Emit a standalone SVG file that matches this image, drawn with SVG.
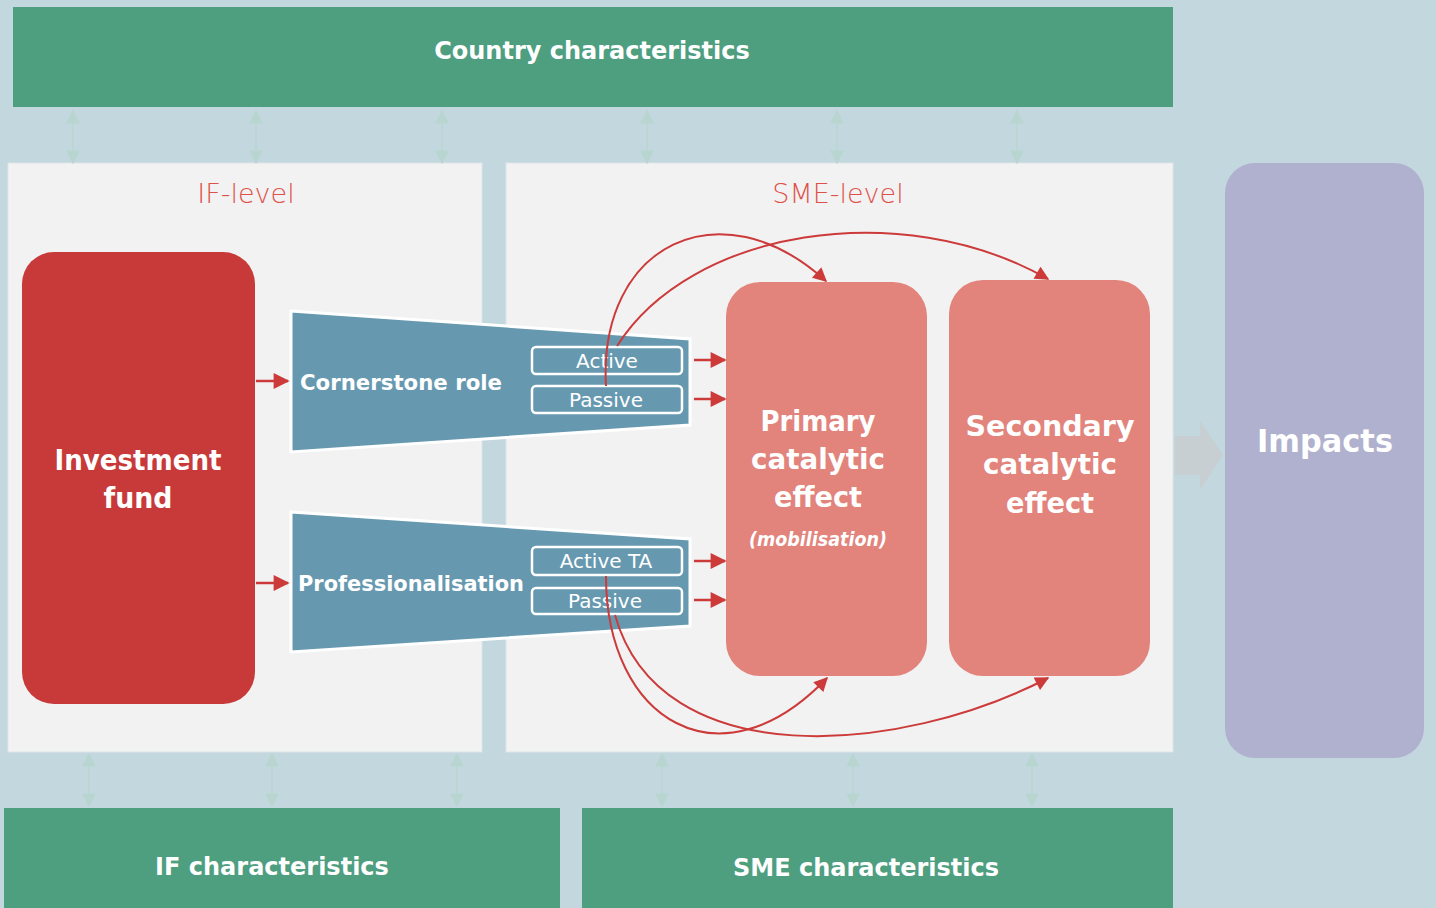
<svg xmlns="http://www.w3.org/2000/svg" width="1436" height="908" viewBox="0 0 1436 908">
  <defs>
    <style>
      .bar { fill: #4e9e80; }
      .panel { fill: #f2f2f2; stroke: #dde6ea; stroke-width: 1; }
      .h-bar { font-family: "DejaVu Sans", "Liberation Sans", sans-serif; font-weight: bold; font-size: 24px; fill: #ffffff; text-anchor: middle; }
      .lvl { font-family: "DejaVu Sans", "Liberation Sans", sans-serif; font-weight: 200; font-size: 27px; fill: #e0504a; text-anchor: middle; }
      .big { font-family: "DejaVu Sans", "Liberation Sans", sans-serif; font-weight: bold; font-size: 28px; fill: #ffffff; text-anchor: middle; }
      .mid { font-family: "DejaVu Sans", "Liberation Sans", sans-serif; font-weight: bold; font-size: 22px; fill: #ffffff; }
      .opt { font-family: "DejaVu Sans", "Liberation Sans", sans-serif; font-size: 20px; fill: #ffffff; text-anchor: middle; }
      .optbox { fill: #6699b0; stroke: #ffffff; stroke-width: 2.5; }
      .trap { fill: #6699b0; stroke: #ffffff; stroke-width: 3; }
      .feed { fill: none; stroke: #cc3a3a; stroke-width: 2; marker-end: url(#red-head); }
      .push { fill: none; stroke: #cc3a3a; stroke-width: 2.5; marker-end: url(#red-tip); }
      .link { fill: none; stroke: #b8d6cf; stroke-width: 1.5; marker-start: url(#faint-head); marker-end: url(#faint-head); }
    </style>
    <marker id="red-head" viewBox="0 0 10 10" refX="9" refY="5" markerWidth="15" markerHeight="14" markerUnits="userSpaceOnUse" orient="auto">
      <path d="M0,0 L10,5 L0,10 z" fill="#cc3a3a"/>
    </marker>
    <marker id="red-tip" viewBox="0 0 10 10" refX="9" refY="5" markerWidth="17" markerHeight="16" markerUnits="userSpaceOnUse" orient="auto">
      <path d="M0,0 L10,5 L0,10 z" fill="#cc3a3a"/>
    </marker>
    <marker id="faint-head" viewBox="0 0 10 10" refX="9" refY="5" markerWidth="14" markerHeight="14" markerUnits="userSpaceOnUse" orient="auto-start-reverse">
      <path d="M0,0 L10,5 L0,10 z" fill="#b8d6cf"/>
    </marker>
  </defs>

  <!-- backdrop -->
  <rect x="0" y="0" width="1436" height="908" fill="#c3d7df"/>

  <!-- level panels -->
  <g id="if-level">
    <rect class="panel" x="8" y="163" width="474" height="589"/>
    <text class="lvl" x="246" y="203">IF-level</text>
  </g>
  <g id="sme-level">
    <rect class="panel" x="506" y="163" width="667" height="589"/>
    <text class="lvl" x="838" y="203">SME-level</text>
  </g>

  <!-- context bars -->
  <g id="country-characteristics">
    <rect class="bar" x="13" y="7" width="1160" height="100"/>
    <text class="h-bar" x="592" y="59">Country characteristics</text>
  </g>
  <g id="if-characteristics">
    <rect class="bar" x="4" y="808" width="556" height="100"/>
    <text class="h-bar" x="272" y="875">IF characteristics</text>
  </g>
  <g id="sme-characteristics">
    <rect class="bar" x="582" y="808" width="591" height="100"/>
    <text class="h-bar" x="866" y="876">SME characteristics</text>
  </g>

  <!-- impacts -->
  <g id="impacts">
    <path d="M1175,436 L1200,436 L1200,421 L1223,455 L1200,490 L1200,475 L1175,475 z" fill="#c7cfd3"/>
    <rect x="1225" y="163" width="199" height="595" rx="30" fill="#b0b1ce"/>
    <text class="big" x="1325" y="452" style="font-size:32px" textLength="136" lengthAdjust="spacingAndGlyphs">Impacts</text>
  </g>

  <!-- investment fund -->
  <g id="investment-fund">
    <rect x="22" y="252" width="233" height="452" rx="32" fill="#c8393a"/>
    <text class="big" x="138" y="470" textLength="167" lengthAdjust="spacingAndGlyphs">Investment</text>
    <text class="big" x="138" y="508" textLength="69" lengthAdjust="spacingAndGlyphs">fund</text>
  </g>

  <!-- channels -->
  <g id="cornerstone-role">
    <polygon class="trap" points="291,311 690,339 690,425 291,452"/>
    <text class="mid" x="300" y="390" textLength="202" lengthAdjust="spacingAndGlyphs">Cornerstone role</text>
    <rect class="optbox" x="532" y="347" width="150" height="27" rx="4"/>
    <text class="opt" x="607" y="368">Active</text>
    <rect class="optbox" x="532" y="386" width="150" height="27" rx="4"/>
    <text class="opt" x="606" y="407">Passive</text>
  </g>
  <g id="professionalisation">
    <polygon class="trap" points="291,512 690,539 690,626 291,652"/>
    <text class="mid" x="298" y="591" textLength="226" lengthAdjust="spacingAndGlyphs">Professionalisation</text>
    <rect class="optbox" x="532" y="547" width="150" height="28" rx="4"/>
    <text class="opt" x="606" y="568">Active TA</text>
    <rect class="optbox" x="532" y="588" width="150" height="26" rx="4"/>
    <text class="opt" x="605" y="608">Passive</text>
  </g>

  <!-- catalytic effects -->
  <g id="primary-effect">
    <rect x="726" y="282" width="201" height="394" rx="34" fill="#e2837c"/>
    <text class="big" x="818" y="431" textLength="115" lengthAdjust="spacingAndGlyphs">Primary</text>
    <text class="big" x="818" y="469" textLength="134" lengthAdjust="spacingAndGlyphs">catalytic</text>
    <text class="big" x="818" y="507" textLength="88" lengthAdjust="spacingAndGlyphs">effect</text>
    <text class="opt" x="818" y="546" style="font-style:italic;font-weight:600;font-size:19px" textLength="138" lengthAdjust="spacingAndGlyphs">(mobilisation)</text>
  </g>
  <g id="secondary-effect">
    <rect x="949" y="280" width="201" height="396" rx="34" fill="#e2837c"/>
    <text class="big" x="1050" y="436" textLength="169" lengthAdjust="spacingAndGlyphs">Secondary</text>
    <text class="big" x="1050" y="474" textLength="134" lengthAdjust="spacingAndGlyphs">catalytic</text>
    <text class="big" x="1050" y="513" textLength="88" lengthAdjust="spacingAndGlyphs">effect</text>
  </g>

  <!-- connectors -->
  <g id="connectors">
    <!-- context links -->
    <path class="link" d="M73,111 V163"/>
    <path class="link" d="M256,111 V163"/>
    <path class="link" d="M442,111 V163"/>
    <path class="link" d="M647,111 V163"/>
    <path class="link" d="M837,111 V163"/>
    <path class="link" d="M1017,111 V163"/>
    <path class="link" d="M89,754 V806"/>
    <path class="link" d="M272,754 V806"/>
    <path class="link" d="M457,754 V806"/>
    <path class="link" d="M662,754 V806"/>
    <path class="link" d="M853,754 V806"/>
    <path class="link" d="M1032,754 V806"/>

    <!-- fund to channels -->
    <path class="push" d="M256,381 H288"/>
    <path class="push" d="M256,583 H288"/>

    <!-- channels to primary effect -->
    <path class="push" d="M694,360 H725"/>
    <path class="push" d="M694,399 H725"/>
    <path class="push" d="M694,561 H725"/>
    <path class="push" d="M694,600 H725"/>

    <!-- spill-over arcs -->
    <path class="feed" d="M606,386 C598,245 720,185 826,281"/>
    <path class="feed" d="M617,346 C690,230 900,195 1048,279"/>
    <path class="feed" d="M606,576 C606,720 720,790 827,678"/>
    <path class="feed" d="M615,615 C660,775 900,755 1048,678"/>
  </g>
</svg>
